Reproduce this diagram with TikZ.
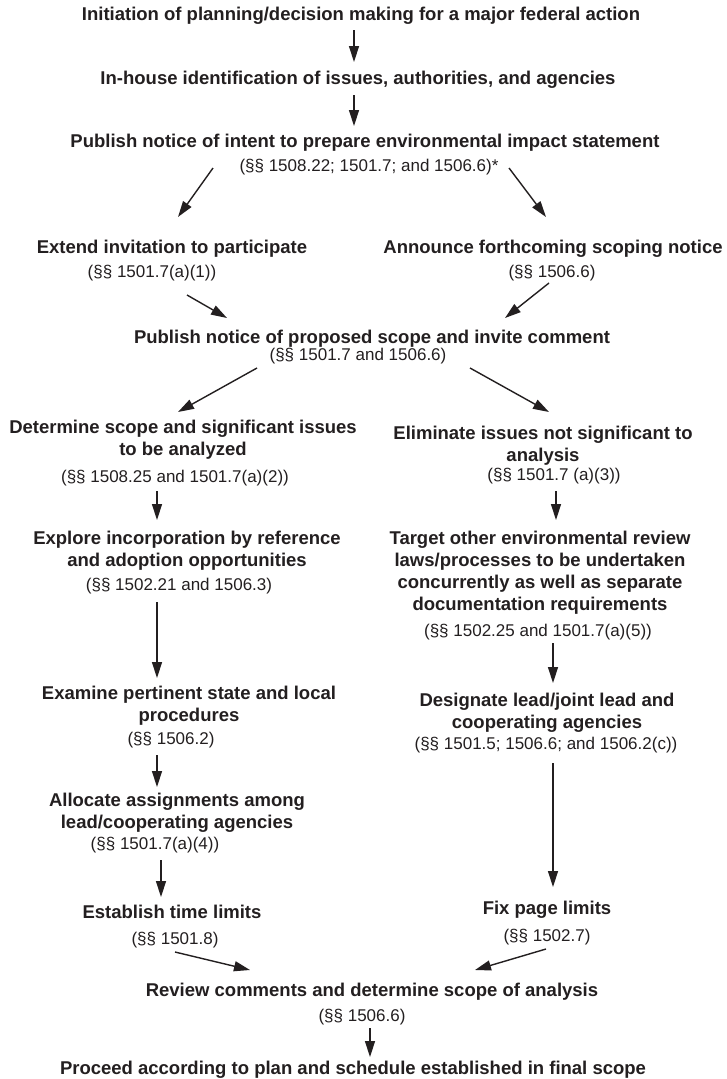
\documentclass[tikz,border=0pt]{standalone}
\usepackage{fontspec}
\setmainfont{Liberation Sans}
\usetikzlibrary{arrows.meta,calc}
\definecolor{ink}{HTML}{231F20}
\begin{document}
\begin{tikzpicture}[x=1pt,y=-1pt,
  head/.style={font=\bfseries\fontsize{18.5}{22}\selectfont, align=center, anchor=base, inner sep=0pt, text=ink},
  cite/.style={font=\fontsize{17}{20}\selectfont, anchor=base, inner sep=0pt, text=ink},
  arr/.style={draw=ink, line width=1.4pt, -{Triangle[length=16pt,width=10pt]}}]
\useasboundingbox (0,0) rectangle (726,1079);
\fill[white] (0,0) rectangle (726,1079);

% steps of the scoping process (multi-line nodes sit on their last baseline)
\node[head] (t1) at (361,20) {Initiation of planning/decision making for a major federal action};
\node[head] (t2) at (358,84) {In-house identification of issues, authorities, and agencies};
\node[head] (t3) at (365,147) {Publish notice of intent to prepare environmental impact statement};
\node[cite] (r3) at (369,171) {(§§ 1508.22; 1501.7; and 1506.6)*};
\node[head] (t4) at (172,253) {Extend invitation to participate};
\node[cite] (r4) at (152,277) {(§§ 1501.7(a)(1))};
\node[head] (t5) at (553,253) {Announce forthcoming scoping notice};
\node[cite] (r5) at (552,277) {(§§ 1506.6)};
\node[head] (t6) at (372,343) {Publish notice of proposed scope and invite comment};
\node[cite] (r6) at (358,360) {(§§ 1501.7 and 1506.6)};
\node[head] (t7) at (183,455) {Determine scope and significant issues\\to be analyzed};
\node[cite] (r7) at (175,482) {(§§ 1508.25 and 1501.7(a)(2))};
\node[head] (t8) at (543,461) {Eliminate issues not significant to\\analysis};
\node[cite] (r8) at (554,480) {(§§ 1501.7 (a)(3))};
\node[head] (t9) at (187,566) {Explore incorporation by reference\\and adoption opportunities};
\node[cite] (r9) at (179,590) {(§§ 1502.21 and 1506.3)};
\node[head] (t10) at (540,610) {Target other environmental review\\laws/processes to be undertaken\\concurrently as well as separate\\documentation requirements};
\node[cite] (r10) at (538,636) {(§§ 1502.25 and 1501.7(a)(5))};
\node[head] (t11) at (189,721) {Examine pertinent state and local\\procedures};
\node[cite] (r11) at (171,744) {(§§ 1506.2)};
\node[head] (t12) at (547,728) {Designate lead/joint lead and\\cooperating agencies};
\node[cite] (r12) at (546,749) {(§§ 1501.5; 1506.6; and 1506.2(c))};
\node[head] (t13) at (177,828) {Allocate assignments among\\lead/cooperating agencies};
\node[cite] (r13) at (155,849) {(§§ 1501.7(a)(4))};
\node[head] (t14) at (172,918) {Establish time limits};
\node[cite] (r14) at (175,944) {(§§ 1501.8)};
\node[head] (t15) at (547,914) {Fix page limits};
\node[cite] (r15) at (547,941) {(§§ 1502.7)};
\node[head] (t16) at (372,996) {Review comments and determine scope of analysis};
\node[cite] (r16) at (362,1021) {(§§ 1506.6)};
\node[head] (t17) at (353,1074) {Proceed according to plan and schedule established in final scope};

% connectors
\draw[arr] ($(t1.base)+(-7,10)$) -- ($(t2.base)+(-4,-22)$);
\draw[arr] ($(t2.base)+(-4,11)$) -- ($(t3.base)+(-11,-21)$);
\draw[arr] ($(r3.base)+(-156,-3)$) -- ($(t4.base)+(6,-36)$);
\draw[arr] ($(r3.base)+(140,-3)$) -- ($(t5.base)+(-7,-36)$);
\draw[arr] ($(r4.base)+(35,18)$) -- ($(t6.base)+(-145,-25)$);
\draw[arr] ($(r5.base)+(-3,6)$) -- ($(t6.base)+(133,-25)$);
\draw[arr] ($(r6.base)+(-101,8)$) -- ($(t7.base)+(-5,-43)$);
\draw[arr] ($(r6.base)+(112,8)$) -- ($(t8.base)+(6,-49)$);
\draw[arr] ($(r7.base)+(-18,9)$) -- ($(t9.base)+(-30,-46)$);
\draw[arr] ($(r8.base)+(2,11)$) -- ($(t10.base)+(16,-90)$);
\draw[arr] ($(r9.base)+(-22,12)$) -- ($(t11.base)+(-32,-43)$);
\draw[arr] ($(r10.base)+(15,7)$) -- ($(t12.base)+(6,-45)$);
\draw[arr] ($(r11.base)+(-14,11)$) -- ($(t13.base)+(-20,-41)$);
\draw[arr] ($(r13.base)+(6,11)$) -- ($(t14.base)+(-11,-21)$);
\draw[arr] ($(r12.base)+(7,14)$) -- ($(t15.base)+(6,-27)$);
\draw[arr] ($(r14.base)+(0,8)$) -- ($(t16.base)+(-122,-26)$);
\draw[arr] ($(r15.base)+(-1,8)$) -- ($(t16.base)+(103,-26)$);
\draw[arr] ($(r16.base)+(8,7)$) -- ($(t17.base)+(17,-17)$);
\end{tikzpicture}
\end{document}
